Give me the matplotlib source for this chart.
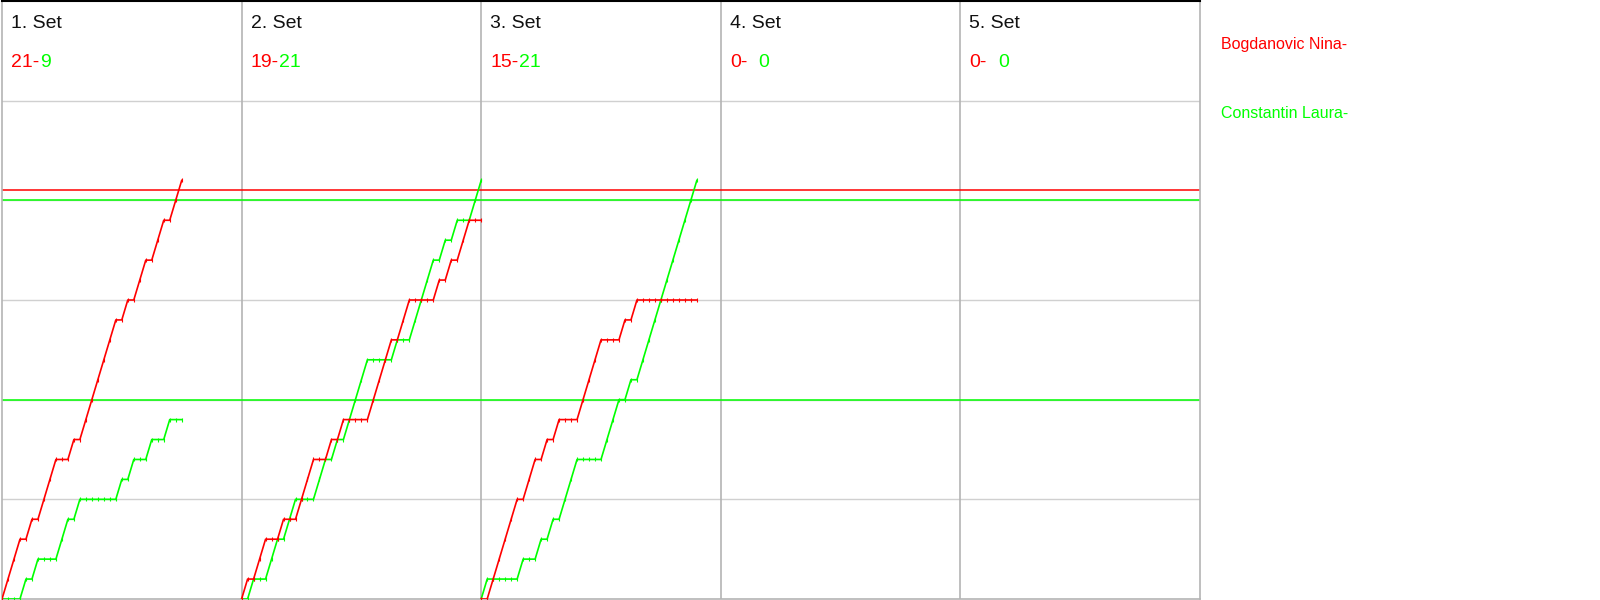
import matplotlib
matplotlib.use("Agg")
import matplotlib.pyplot as plt
import numpy as np

plt.rcParams["font.family"] = ["Liberation Sans", "DejaVu Sans"]

RED = "#ff0000"
GREEN = "#00ff00"
GRID = "#d0d0d0"
DIVIDER = "#b4b4b4"

players = ["Bogdanovic Nina-", "Constantin Laura-"]
set_titles = ["1. Set", "2. Set", "3. Set", "4. Set", "5. Set"]
# rally winners per set: R = Bogdanovic (red), G = Constantin (green)
set1 = "RRRGRGRRRGGRGRRRRRRGRGRRGRRGRR"
set2 = "RGRRGGRGGRRRGGRGRGGGGRRRRGRRGGGGRGRGRRGG"
set3 = "GRRRRRGRRGRGRGGGRRRRGGGRGRGGGGGGGGGG"
set_rallies = [set1, set2, set3, "", ""]
ref_red = [20.5]
ref_green = [20, 10]

SET_WIDTH = 40   # rallies per column
Y_MAX = 30       # points shown

fig = plt.figure(figsize=(16, 6), dpi=100, facecolor="white")
ax = fig.add_axes([2 / 1600, 1 / 600, 1198 / 1600, 598 / 600])
ax.set_xlim(0, SET_WIDTH * len(set_titles))
ax.set_ylim(0, Y_MAX)
ax.set_xticks([])
ax.set_yticks([])
for side in ["left", "right", "bottom"]:
    ax.spines[side].set_color(DIVIDER)
    ax.spines[side].set_linewidth(1.2)
ax.spines["top"].set_color("black")
ax.spines["top"].set_linewidth(1.5)

for y in range(5, Y_MAX, 5):
    ax.axhline(y, color=GRID, lw=1.0, zorder=0)
for i in range(1, len(set_titles)):
    ax.axvline(SET_WIDTH * i, color=DIVIDER, lw=1.2, zorder=0)

for y in ref_red:
    ax.axhline(y, color=RED, lw=1.1, zorder=1)
for y in ref_green:
    ax.axhline(y, color=GREEN, lw=1.1, zorder=1)

for i, (title, seq) in enumerate(zip(set_titles, set_rallies)):
    x0 = SET_WIDTH * i
    wins = np.array(list(seq))
    red_score = np.concatenate([[0], np.cumsum(wins == "R")])
    green_score = np.concatenate([[0], np.cumsum(wins == "G")])
    xs = x0 + np.arange(len(wins) + 1)
    if len(wins):
        ax.plot(xs, green_score, color=GREEN, lw=1.2, marker="|", ms=3, mew=0.8, zorder=3)
        ax.plot(xs, red_score, color=RED, lw=1.2, marker="|", ms=3, mew=0.8, zorder=3)

    ax.text(x0 + 1.5, 28.85, title, fontsize=14, color="#111111", va="center")
    ax.text(x0 + 1.5, 26.9, f"{red_score[-1]}-", fontsize=14, color=RED, va="center")
    ax.text(x0 + 6.3, 26.9, f"{green_score[-1]}", fontsize=14, color=GREEN, va="center")

fig.text(1221 / 1600, 1 - 44 / 600, players[0], color=RED, fontsize=11.5, va="center")
fig.text(1221 / 1600, 1 - 114 / 600, players[1], color=GREEN, fontsize=11.5, va="center")

fig.savefig("out.png", dpi=100, facecolor="white")
